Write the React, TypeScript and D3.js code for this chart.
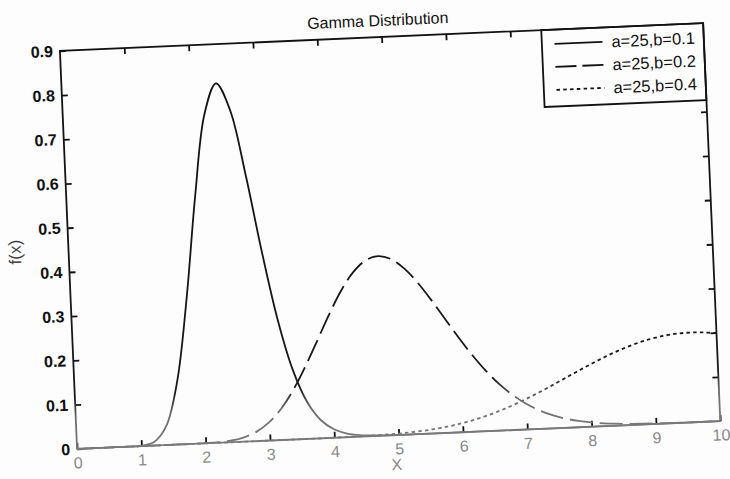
import { useEffect, useRef } from 'react';
import * as d3 from 'd3';

// x grid used for all three curves
const X = [
  0, 0.2, 0.4, 0.6, 0.8, 1, 1.2, 1.4, 1.6, 1.8,
  2, 2.2, 2.4, 2.6, 2.8, 3, 3.2, 3.4, 3.6, 3.8,
  4, 4.2, 4.4, 4.6, 4.8, 5, 5.2, 5.4, 5.6, 5.8,
  6, 6.2, 6.4, 6.6, 6.8, 7, 7.2, 7.4, 7.6, 7.8,
  8, 8.2, 8.4, 8.6, 8.8, 9, 9.2, 9.4, 9.6, 9.8, 10,
];

// f(x)
const B01 = [
  0, 0, 0, 0, 0, 0.0007, 0.0079, 0.043, 0.1436, 0.3285,
  0.5573, 0.743, 0.8116, 0.75, 0.6011, 0.426, 0.2714, 0.1573, 0.0839, 0.0415,
  0.0193, 0.0084, 0.0035, 0.0014, 0.0005, 0, 0, 0, 0, 0,
  0, 0, 0, 0, 0, 0, 0, 0, 0, 0,
  0, 0, 0, 0, 0, 0, 0, 0, 0, 0, 0,
];
const B02 = [
  0, 0, 0, 0, 0, 0, 0, 0, 0, 0,
  0.0004, 0.0013, 0.0039, 0.0099, 0.0215, 0.0415, 0.0718, 0.1133, 0.1643, 0.2212,
  0.2787, 0.3307, 0.3715, 0.3972, 0.4058, 0.3977, 0.375, 0.3413, 0.3006, 0.2567,
  0.213, 0.1722, 0.1357, 0.1045, 0.0787, 0.0581, 0.042, 0.0298, 0.0208, 0.0143,
  0.0097, 0.0064, 0.0042, 0.0027, 0.0018, 0.0011, 0.0007, 0.0004, 0.0003, 0.0002, 0.0001,
];
const B04 = [
  0, 0, 0, 0, 0, 0, 0, 0, 0, 0,
  0, 0, 0, 0, 0, 0, 0, 0, 0, 0,
  0.0002, 0.0004, 0.0007, 0.0012, 0.002, 0.0032, 0.005, 0.0074, 0.0108, 0.0152,
  0.0207, 0.0277, 0.0359, 0.0456, 0.0566, 0.0689, 0.0821, 0.0961, 0.1106, 0.1251,
  0.1393, 0.1528, 0.1653, 0.1764, 0.1858, 0.1932, 0.1986, 0.2018, 0.2029, 0.2019, 0.1988,
];

const LABELS = ['a=25,b=0.1', 'a=25,b=0.2', 'a=25,b=0.4'];
const X_TICKS = [0, 1, 2, 3, 4, 5, 6, 7, 8, 9, 10];
const Y_TICKS = [0, 0.1, 0.2, 0.3, 0.4, 0.5, 0.6, 0.7, 0.8, 0.9];

const W = 730;
const H = 479;
const margin = { top: 36.8, right: 18, bottom: 43.8, left: 68.2 };
const TILT = -2.47; // the scanned page is a little rotated
const FONT = '"Liberation Sans", Arial, sans-serif';

export default function App() {
  const svgRef = useRef<SVGSVGElement>(null);

  useEffect(() => {
    if (!svgRef.current) return;
    const svg = d3.select(svgRef.current);
    svg.selectAll('*').remove();

    const x = d3.scaleLinear().domain([0, 10]).range([margin.left, W - margin.right]);
    const y = d3.scaleLinear().domain([0, 0.9]).range([H - margin.bottom, margin.top]);
    const [x0, x1] = x.range();
    const [y0, y1] = y.range();
    const cx = (x0 + x1) / 2;
    const cy = (y0 + y1) / 2;

    // ink fades toward the bottom of the scan
    const grad = svg.append('defs').append('linearGradient')
      .attr('id', 'ink').attr('gradientUnits', 'userSpaceOnUse')
      .attr('x1', 0).attr('y1', 0).attr('x2', 0).attr('y2', H);
    [[0, '#111'], [0.8, '#181818'], [0.845, '#6c6c6c'], [1, '#8a8a8a']].forEach(([o, c]) =>
      grad.append('stop').attr('offset', o as number).attr('stop-color', c as string));

    svg.append('rect').attr('width', W).attr('height', H).attr('fill', '#fdfdfd');

    const g = svg.append('g').attr('transform', `rotate(${TILT},${cx},${cy})`);

    const styleAxis = (sel: any, bold = false) => {
      sel.select('.domain').remove();
      sel.selectAll('line').attr('stroke', 'url(#ink)').attr('stroke-width', 1.8);
      sel.selectAll('text')
        .attr('fill', 'url(#ink)')
        .attr('font-family', FONT)
        .attr('font-size', 16)
        .attr('font-weight', bold ? 700 : 400);
    };

    g.append('g').attr('transform', `translate(0,${y0})`)
      .call(d3.axisBottom(x).tickValues(X_TICKS).tickSize(-6).tickSizeOuter(0).tickPadding(8).tickFormat(d3.format('d')))
      .call((s) => styleAxis(s))
      .call((s) => s.selectAll('text').attr('fill', '#888'));
    g.append('g').attr('transform', `translate(0,${y1})`)
      .call(d3.axisTop(x).tickValues(X_TICKS.slice(1, -1)).tickSize(-6).tickSizeOuter(0).tickFormat(() => ''))
      .call((s) => styleAxis(s));
    g.append('g').attr('transform', `translate(${x0},0)`)
      .call(d3.axisLeft(y).tickValues(Y_TICKS).tickSize(-6).tickSizeOuter(0).tickPadding(7).tickFormat((d) => (d === 0 ? '0' : d3.format('.1f')(d as number))))
      .call((s) => styleAxis(s, true));
    g.append('g').attr('transform', `translate(${x1},0)`)
      .call(d3.axisRight(y).tickValues(Y_TICKS.slice(1, -1)).tickSize(-6).tickSizeOuter(0).tickFormat(() => ''))
      .call((s) => styleAxis(s));

    const line = d3.line<number>()
      .x((_, i) => x(X[i]))
      .y((d) => y(d))
      .curve(d3.curveCatmullRom.alpha(0.5));

    const series = [
      { label: LABELS[0], values: B01, dash: null, legendDash: null },
      { label: LABELS[1], values: B02, dash: '23 7', legendDash: '21 6' },
      { label: LABELS[2], values: B04, dash: '3.5 3.2', legendDash: '3.5 3.3' },
    ];

    series.forEach((s) => {
      g.append('path')
        .datum(s.values)
        .attr('fill', 'none')
        .attr('stroke', 'url(#ink)')
        .attr('stroke-width', 1.8)
        .attr('stroke-dasharray', s.dash)
        .attr('d', line);
    });

    // legend, top right, sharing the axes border
    const lw = 162, lh = 77;
    const lg = g.append('g').attr('transform', `translate(${x1 - lw},${y1})`);
    lg.append('rect').attr('width', lw).attr('height', lh)
      .attr('fill', '#fdfdfd').attr('stroke', '#111').attr('stroke-width', 1.8);
    series.forEach((s, i) => {
      const ry = 14.4 + i * 23;
      lg.append('line')
        .attr('x1', 12.6).attr('x2', 60.6).attr('y1', ry).attr('y2', ry)
        .attr('stroke', '#111').attr('stroke-width', 1.8)
        .attr('stroke-dasharray', s.legendDash);
      lg.append('text')
        .attr('x', 69.6).attr('y', ry).attr('dy', '0.35em')
        .attr('fill', '#111').attr('font-family', FONT).attr('font-size', 16.5)
        .text(s.label);
    });

    // frame
    g.append('rect')
      .attr('x', x0).attr('y', y1).attr('width', x1 - x0).attr('height', y0 - y1)
      .attr('fill', 'none').attr('stroke', 'url(#ink)').attr('stroke-width', 1.8);

    g.append('text')
      .attr('x', cx - 3).attr('y', 25.7).attr('text-anchor', 'middle')
      .attr('fill', '#111').attr('font-family', FONT).attr('font-size', 16)
      .text('Gamma Distribution');
    g.append('text')
      .attr('x', cx - 3).attr('y', 470).attr('text-anchor', 'middle')
      .attr('fill', '#888').attr('font-family', FONT).attr('font-size', 16)
      .text('X');
    g.append('text')
      .attr('transform', `translate(20.5,${cy}) rotate(-90)`).attr('text-anchor', 'middle')
      .attr('fill', '#444').attr('font-family', FONT).attr('font-size', 17)
      .text('f(x)');
  }, []);

  return <svg ref={svgRef} width={W} height={H} style={{ position: 'absolute', left: 0, top: 0, display: 'block' }} />;
}
